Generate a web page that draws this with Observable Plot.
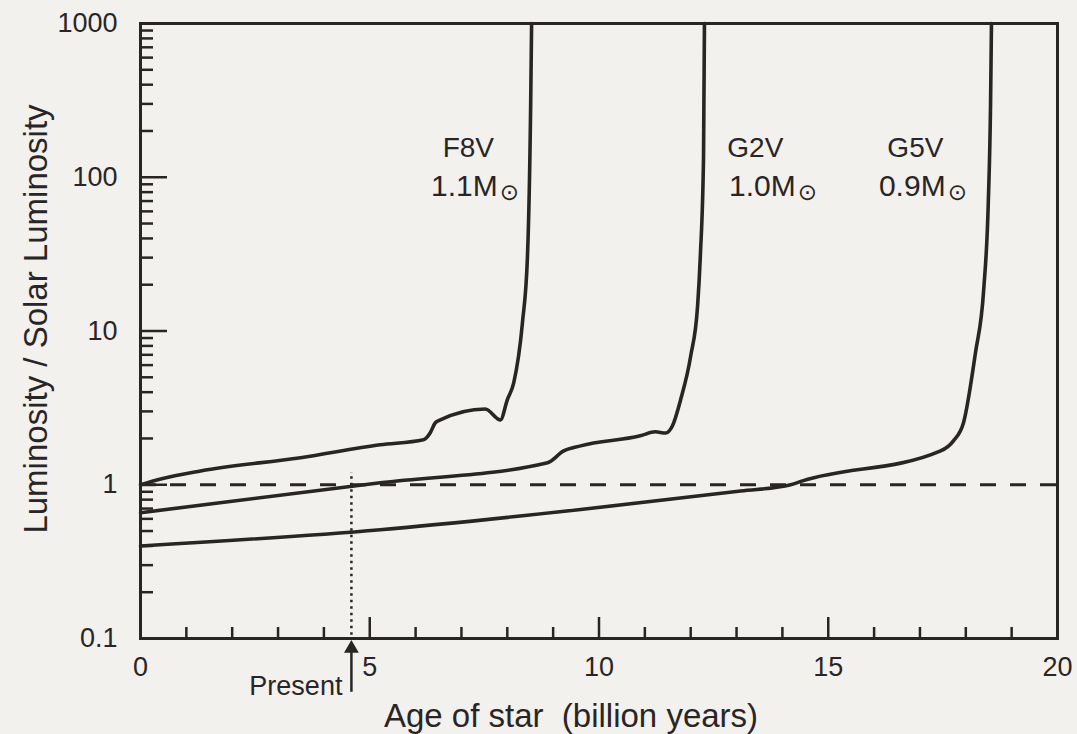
<!DOCTYPE html>
<html>
<head>
<meta charset="utf-8">
<script src="https://cdn.jsdelivr.net/npm/d3@7"></script>
<script src="https://cdn.jsdelivr.net/npm/@observablehq/plot@0.6"></script>
<style>
  html, body { margin: 0; padding: 0; background: #f2f1ee; }
</style>
</head>
<body>
<div id="chart"></div>
<script>
// Luminosity evolution of three main-sequence stars (age in billion years, L / L_sun)
const f8vAge = [0, 0.44, 1.31, 3.49, 5.23, 6.17, 6.32, 6.43, 6.54, 7.52, 7.85, 8.0, 8.14, 8.33, 8.44, 8.51, 8.53];
const f8vLum = [1.0, 1.09, 1.23, 1.50, 1.82, 1.96, 2.18, 2.53, 2.64, 3.11, 2.64, 3.57, 4.6, 11.3, 30.7, 302, 1000];

const g2vAge = [0, 5.23, 8.88, 9.23, 9.60, 10.9, 11.23, 11.45, 11.6, 11.78, 12.0, 12.15, 12.21, 12.28, 12.30];
const g2vLum = [0.658, 1.03, 1.39, 1.66, 1.79, 2.08, 2.21, 2.17, 2.41, 3.57, 6.87, 14.5, 30.7, 137, 1000];

const g5vAge = [0, 5.23, 9.60, 13.09, 14.18, 14.44, 17.45, 17.73, 17.95, 18.21, 18.39, 18.49, 18.54, 18.56];
const g5vLum = [0.40, 0.51, 0.69, 0.91, 1.0, 1.06, 1.66, 1.93, 2.53, 7.2, 18.5, 67.6, 302, 1000];

const starTypes = ["F8V", "G2V", "G5V"];
const starMasses = ["1.1M", "1.0M", "0.9M"];
const presentAge = 4.6;

// Axis ticks
const xLabelTicks = [0, 5, 10, 15, 20];
const xMinorTicks = [1, 2, 3, 4, 6, 7, 8, 9, 11, 12, 13, 14, 16, 17, 18, 19];
const xMajorTicks = [5, 10, 15];
const yLabelTicks = [0.1, 1, 10, 100, 1000];
const yMajorTicks = [1, 10, 100];
const yMinorTicks = [0.1, 1, 10, 100].flatMap(d => [2, 3, 4, 5, 6, 7, 8, 9].map(k => +(d * k).toPrecision(3)));

// Label placement (age) for each track's annotation
const labelAt = [
  {nameAge: 7.15, massAge: 7.79},
  {nameAge: 13.41, massAge: 14.29},
  {nameAge: 16.90, massAge: 17.56}
];
const nameLum = 154;
const massLum = 87.5;

const tracks = [
  ...f8vAge.map((a, i) => ({star: "F8V", age: a, lum: f8vLum[i]})),
  ...g2vAge.map((a, i) => ({star: "G2V", age: a, lum: g2vLum[i]})),
  ...g5vAge.map((a, i) => ({star: "G5V", age: a, lum: g5vLum[i]}))
];
const labels = starTypes.map((s, i) => ({name: s, mass: starMasses[i], ...labelAt[i]}));

const ink = "#2a2525";
const W = 1077, H = 734, ML = 140, MR = 20, MT = 23, MB = 96;
const innerW = W - ML - MR, innerH = H - MT - MB;

const chart = Plot.plot({
  width: W,
  height: H,
  marginLeft: ML,
  marginRight: MR,
  marginTop: MT,
  marginBottom: MB,
  style: {background: "#f2f1ee", fontFamily: "'Liberation Sans', Arial, sans-serif", color: ink},
  x: {domain: [0, 20]},
  y: {type: "log", domain: [0.1, 1000]},
  marks: [
    // inward ticks on the y axis
    Plot.ruleY(yMinorTicks, {stroke: ink, strokeWidth: 2.5, insetRight: innerW - 13}),
    Plot.ruleY(yMajorTicks, {stroke: ink, strokeWidth: 2.5, insetRight: innerW - 27}),
    // inward ticks on the x axis
    Plot.ruleX(xMinorTicks, {stroke: ink, strokeWidth: 2.5, insetTop: innerH - 11}),
    Plot.ruleX(xMajorTicks, {stroke: ink, strokeWidth: 2.5, insetTop: innerH - 21}),
    // solar luminosity reference
    Plot.ruleY([1], {stroke: ink, strokeWidth: 3, strokeDasharray: "16,14"}),
    // the present-day Sun
    Plot.ruleX([presentAge], {y1: 0.105, y2: 1.2, stroke: ink, strokeWidth: 2.5, strokeDasharray: "2.5,4"}),
    Plot.ruleX([presentAge], {y1: 0.0447, y2: 0.092, stroke: ink, strokeWidth: 2.5}),
    Plot.dot([presentAge], {x: d => d, frameAnchor: "bottom", dy: 10, symbol: "triangle", r: 5.5, fill: ink, stroke: null}),
    Plot.text(["Present"], {x: () => presentAge, frameAnchor: "bottom", lineAnchor: "middle", dy: 48, dx: -9, textAnchor: "end", fontSize: 27, fill: ink}),
    // evolutionary tracks
    Plot.line(tracks, {x: "age", y: "lum", z: "star", curve: "monotone-x", stroke: ink, strokeWidth: 3.6, strokeLinejoin: "round"}),
    Plot.frame({stroke: ink, strokeWidth: 3}),
    // axes
    Plot.axisY({ticks: yLabelTicks, tickSize: 0, tickPadding: 23, tickFormat: d => String(d), fontSize: 27, fill: ink, label: null}),
    Plot.axisX({ticks: xLabelTicks, tickSize: 0, tickPadding: 18, tickFormat: d => String(d), fontSize: 27, fill: ink, label: null}),
    Plot.text(["Luminosity / Solar Luminosity"], {frameAnchor: "left", textAnchor: "middle", lineAnchor: "middle", rotate: -90, dx: -104, dy: -12, fontSize: 33, fill: ink}),
    Plot.text(["Age of star\u00a0\u00a0(billion years)"], {frameAnchor: "bottom", textAnchor: "middle", lineAnchor: "middle", dx: -28, dy: 78, fontSize: 33, fill: ink}),
    // track annotations
    Plot.text(labels, {x: "nameAge", y: () => nameLum, text: "name", fontSize: 28, fill: ink}),
    Plot.text(labels, {x: "massAge", y: () => massLum, text: "mass", textAnchor: "end", fontSize: 30, fill: ink}),
    Plot.text(labels, {x: "massAge", y: () => massLum, text: () => "\u2299", textAnchor: "start", dx: 2, dy: 6, fontSize: 23, fill: ink, fontFamily: "'DejaVu Sans', sans-serif"})
  ]
});

document.getElementById("chart").appendChild(chart);
</script>
</body>
</html>
